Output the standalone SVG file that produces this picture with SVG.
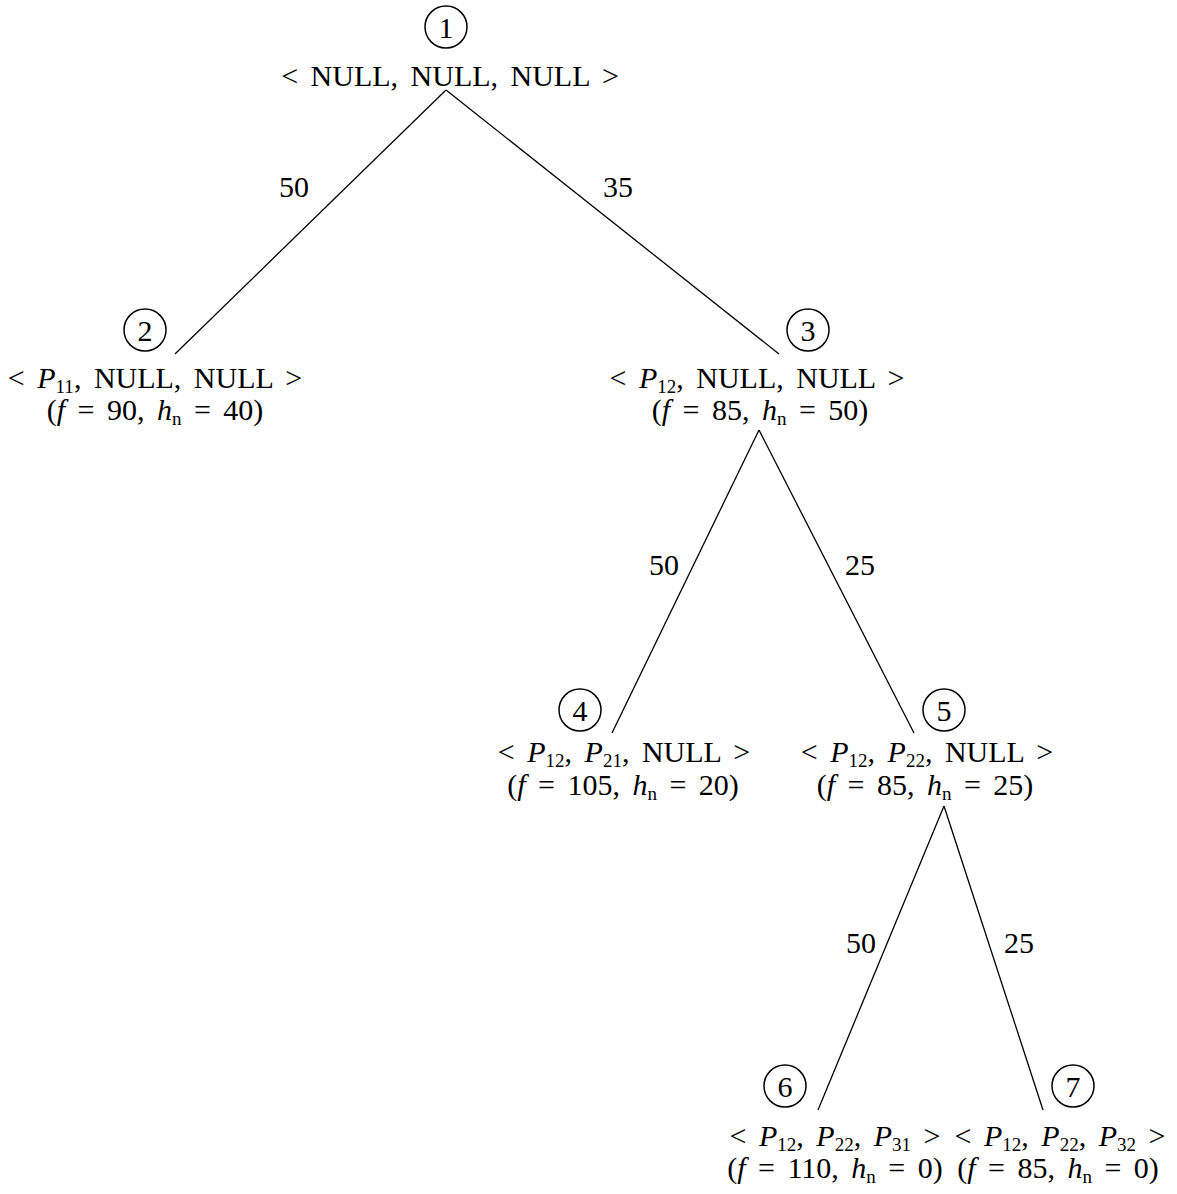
<svg xmlns="http://www.w3.org/2000/svg" width="1177" height="1194" viewBox="0 0 1177 1194">
<style>
text{font-family:"Liberation Serif","DejaVu Serif",serif;font-size:30px;fill:#000;text-anchor:middle}
.l{word-spacing:5px}
.i{font-style:italic}
.s{font-size:19px;font-style:normal}
circle{fill:none;stroke:#000;stroke-width:1.5}
line{stroke:#000;stroke-width:1.3}
</style>
<rect width="1177" height="1194" fill="#fff"/>
<g id="connectors">
<line x1="446" y1="90" x2="175" y2="354"/>
<line x1="446" y1="90" x2="779" y2="354"/>
<line x1="759" y1="430" x2="612" y2="733"/>
<line x1="759" y1="430" x2="914" y2="733"/>
<line x1="944" y1="806" x2="818" y2="1110"/>
<line x1="944" y1="806" x2="1043" y2="1110"/>
<text x="294" y="197">50</text>
<text x="618" y="197">35</text>
<text x="664" y="575">50</text>
<text x="860" y="575">25</text>
<text x="861" y="953">50</text>
<text x="1019" y="953">25</text>
</g>
<g id="node1">
<circle cx="446" cy="27" r="21"/>
<text x="446" y="38">1</text>
<text class="l" x="450" y="86">&lt; NULL, NULL, NULL &gt;</text>
</g>
<g id="node2">
<circle cx="145" cy="330" r="21"/>
<text x="145" y="341">2</text>
<text class="l" x="155" y="388">&lt; <tspan class="i">P</tspan><tspan class="s" dy="5">11</tspan><tspan dy="-5">, NULL, NULL &gt;</tspan></text>
<text class="l" x="155" y="420">(<tspan class="i">f</tspan> = 90, <tspan class="i">h</tspan><tspan class="s i" dy="5">n</tspan><tspan dy="-5"> = 40)</tspan></text>
</g>
<g id="node3">
<circle cx="808" cy="330" r="21"/>
<text x="808" y="341">3</text>
<text class="l" x="757" y="388">&lt; <tspan class="i">P</tspan><tspan class="s" dy="5">12</tspan><tspan dy="-5">, NULL, NULL &gt;</tspan></text>
<text class="l" x="760" y="420">(<tspan class="i">f</tspan> = 85, <tspan class="i">h</tspan><tspan class="s i" dy="5">n</tspan><tspan dy="-5"> = 50)</tspan></text>
</g>
<g id="node4">
<circle cx="580" cy="710" r="21"/>
<text x="580" y="721">4</text>
<text class="l" x="624" y="762">&lt; <tspan class="i">P</tspan><tspan class="s" dy="5">12</tspan><tspan dy="-5">, </tspan><tspan class="i">P</tspan><tspan class="s" dy="5">21</tspan><tspan dy="-5">, NULL &gt;</tspan></text>
<text class="l" x="623" y="795">(<tspan class="i">f</tspan> = 105, <tspan class="i">h</tspan><tspan class="s i" dy="5">n</tspan><tspan dy="-5"> = 20)</tspan></text>
</g>
<g id="node5">
<circle cx="944" cy="710" r="21"/>
<text x="944" y="721">5</text>
<text class="l" x="927" y="762">&lt; <tspan class="i">P</tspan><tspan class="s" dy="5">12</tspan><tspan dy="-5">, </tspan><tspan class="i">P</tspan><tspan class="s" dy="5">22</tspan><tspan dy="-5">, NULL &gt;</tspan></text>
<text class="l" x="925" y="795">(<tspan class="i">f</tspan> = 85, <tspan class="i">h</tspan><tspan class="s i" dy="5">n</tspan><tspan dy="-5"> = 25)</tspan></text>
</g>
<g id="node6">
<circle cx="785" cy="1086" r="21"/>
<text x="785" y="1097">6</text>
<text class="l" x="835" y="1146">&lt; <tspan class="i">P</tspan><tspan class="s" dy="5">12</tspan><tspan dy="-5">, </tspan><tspan class="i">P</tspan><tspan class="s" dy="5">22</tspan><tspan dy="-5">, </tspan><tspan class="i">P</tspan><tspan class="s" dy="5">31</tspan><tspan dy="-5"> &gt;</tspan></text>
<text class="l" x="835" y="1178">(<tspan class="i">f</tspan> = 110, <tspan class="i">h</tspan><tspan class="s i" dy="5">n</tspan><tspan dy="-5"> = 0)</tspan></text>
</g>
<g id="node7">
<circle cx="1073" cy="1086" r="21"/>
<text x="1073" y="1097">7</text>
<text class="l" x="1060" y="1146">&lt; <tspan class="i">P</tspan><tspan class="s" dy="5">12</tspan><tspan dy="-5">, </tspan><tspan class="i">P</tspan><tspan class="s" dy="5">22</tspan><tspan dy="-5">, </tspan><tspan class="i">P</tspan><tspan class="s" dy="5">32</tspan><tspan dy="-5"> &gt;</tspan></text>
<text class="l" x="1058" y="1178">(<tspan class="i">f</tspan> = 85, <tspan class="i">h</tspan><tspan class="s i" dy="5">n</tspan><tspan dy="-5"> = 0)</tspan></text>
</g>
</svg>
